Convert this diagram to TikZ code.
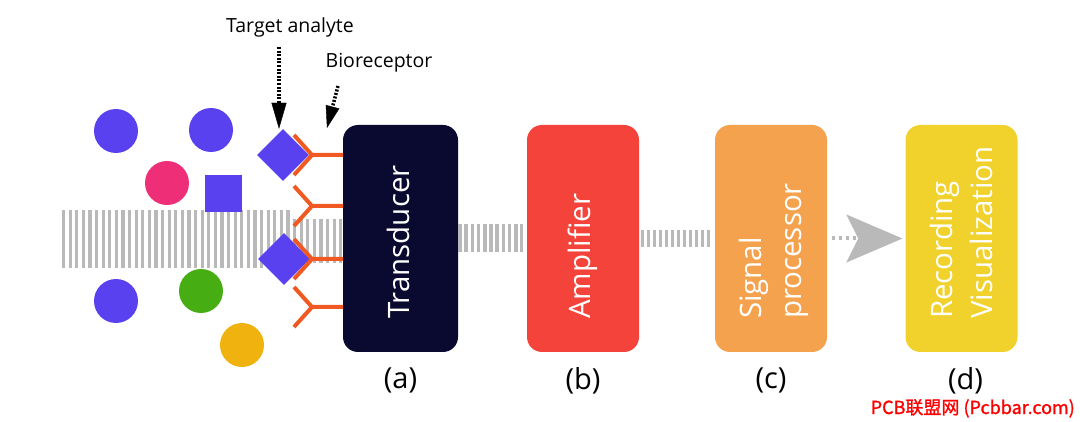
\documentclass[tikz,border=0pt]{standalone}
\usepackage{fontspec}
\setmainfont{Open Sans}
\newfontfamily\cjk[FakeBold=1.2]{Noto Sans CJK SC}
\usetikzlibrary{shapes.geometric,arrows.meta,positioning,calc}
\definecolor{TD}{HTML}{0A0A30}
\definecolor{AM}{HTML}{F4433A}
\definecolor{SP}{HTML}{F4A24E}
\definecolor{RV}{HTML}{F1D12B}
\definecolor{SG}{HTML}{B9B9B9}
\definecolor{MB}{HTML}{5A41F0}
\definecolor{MP}{HTML}{EE2F78}
\definecolor{MG}{HTML}{46AE12}
\definecolor{MO}{HTML}{F0B20E}
\definecolor{RC}{HTML}{F05A22}

\begin{document}
\begin{tikzpicture}[x=1pt, y=-1pt,
  blk/.style={rounded corners=15pt, minimum width=112pt,
              minimum height=227pt, inner sep=0pt},
  blktxt/.style={rotate=90, anchor=west, align=left, inner sep=0pt,
                 text=white, font=\fontsize{29.5}{40}\selectfont},
  tag/.style={inner sep=0pt, font=\fontsize{29}{29}\selectfont},
  note/.style={inner sep=0pt, font=\fontsize{19.5}{20}\selectfont},
  mol/.style={circle, minimum size=44pt, inner sep=0pt},
  analyte/.style={diamond, fill=MB, minimum width=52pt,
                  minimum height=52pt, inner sep=0pt},
  rcpt/.style={RC, line width=4pt, line join=round},
  ptr/.style={line width=3.5pt, dash pattern=on 2pt off 1.6pt,
              -{Triangle[length=26pt,width=15pt,line width=0.4pt]}}]
  \useasboundingbox[fill=white] (0,0) rectangle (1080,422);

  %% the four stages
  \node[blk, fill=TD, minimum width=115pt] (tr) at (400.5,238.5) {};
  \node[blk, fill=AM] (amp) at (583,238.5) {};
  \node[blk, fill=SP] (sig) at (771,238.5) {};
  \node[blk, fill=RV] (rec) at (961.5,238.5) {};
  \node[blktxt] (trtxt) at ($(tr.south)+(-2,-33)$) {Transducer};
  \node[blktxt] (amptxt) at ($(amp.south)+(0,-33)$) {Amplifier};
  \node[blktxt] (sigtxt) at ($(sig.south)+(3,-33)$) {Signal\\processor};
  \node[blktxt] (rectxt) at ($(rec.south)+(0,-33)$) {Recording\\Visualization};

  %% stage letters below the boxes
  \node[tag, below=15pt of tr] (lbla) {(a)};
  \node[tag, below=15pt of amp] (lblb) {(b)};
  \node[tag, below=15pt of sig] (lblc) {(c)};
  \node[tag, below=15pt of rec, xshift=4pt] (lbld) {(d)};

  %% striped signal band
  \coordinate (bandL) at (62,239);
  \coordinate (bandM) at (293,239);
  \draw[SG, line width=58pt, dash pattern=on 3.2pt off 3.4pt]
    (bandL) -- (bandM);
  \draw[SG, line width=44pt, dash pattern=on 3.2pt off 3.4pt]
    ($(bandM)+(0,2)$) -- ($(tr.west)+(0,2.5)$);
  \draw[SG, line width=28pt, dash pattern=on 3.6pt off 2.6pt,
        shorten >=4pt] (tr.east) -- (amp.west);
  \draw[SG, line width=17pt, dash pattern=on 3pt off 3pt,
        shorten <=2pt, shorten >=2pt] (amp.east) -- (sig.west);
  \draw[SG, line width=4pt, dash pattern=on 3pt off 4pt,
        shorten <=5pt, shorten >=3pt,
        -{Stealth[length=56pt,width=48pt,inset=12pt,line width=0.4pt]}]
    (sig.east) -- (rec.west);

  %% molecules in the sample
  \node[mol, fill=MB] (m1) at (116,131) {};
  \node[mol, fill=MB] (m2) at (211,130) {};
  \node[mol, fill=MP] (m3) at (167,183) {};
  \node[fill=MB, minimum size=37pt, inner sep=0pt] (m4) at (223.5,194) {};
  \node[mol, fill=MB] (m5) at (116,301) {};
  \node[mol, fill=MG] (m6) at (201,291) {};
  \node[mol, fill=MO] (m7) at (242,345) {};
  \node[analyte] (anA) at (283,155) {};
  \node[analyte] (anB) at (284,259) {};

  %% bioreceptors on the transducer face
  \foreach \yy in {155,206,259,307}{
    \draw[rcpt] (343,\yy) -- ++(-31,0) -- ++(-18,-20)
      ++(18,20) -- ++(-18,20);
  }

  %% callouts
  \node[note] (ta) at (290,27) {Target analyte};
  \node[note] (br) at (379,63) {Bioreceptor};
  \coordinate (taTail) at (279,47);
  \coordinate (brTail) at (338,86);
  \coordinate (brTip) at (327,128);
  \draw[ptr] (taTail) -- (taTail |- anA.north);
  \draw[ptr, -{Triangle[length=22pt,width=14pt,line width=0.4pt]}]
    (brTail) -- (brTip);

  %% watermark
  \node[anchor=base east, inner sep=0pt, text=red,
        font=\cjk\fontsize{18}{18}\selectfont] (wm) at (1075,414)
    {PCB联盟网 (Pcbbar.com)};
\end{tikzpicture}
\end{document}
